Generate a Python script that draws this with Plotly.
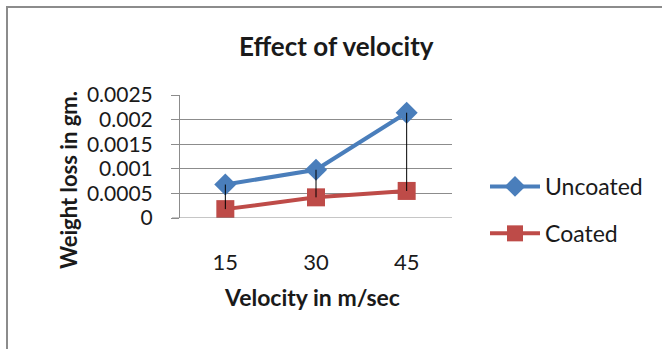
import plotly.graph_objects as go

# Chart data
velocity = ["15", "30", "45"]
uncoated = [0.00068, 0.00098, 0.00214]
coated = [0.00018, 0.00042, 0.00055]
y_ticks = [0, 0.0005, 0.001, 0.0015, 0.002, 0.0025]
y_tick_text = ["0", "0.0005", "0.001", "0.0015", "0.002", "0.0025"]

W, H = 662, 349
L, R, T, B = 180, 452, 95, 218  # plot area in pixels
FONT = "Lato"
TEXT = "#1a1a1a"
AXIS = "#8c8c8c"

def px_x(p):
    return (p - L) / (R - L)

def px_y(p):
    return (B - p) / (B - T)

xpos = list(range(len(velocity)))

fig = go.Figure()

fig.add_trace(go.Scatter(
    x=xpos, y=uncoated, name="Uncoated", mode="lines+markers",
    legendgroup="u",
    line=dict(color="#4A7EBB", width=4),
    marker=dict(symbol="diamond", size=17, color="#4A7EBB"),
))
fig.add_trace(go.Scatter(
    x=xpos, y=coated, name="Coated", mode="lines+markers",
    legendgroup="c",
    line=dict(color="#BE4B48", width=4),
    marker=dict(symbol="square", size=18, color="#BE4B48"),
))

# High-low lines joining the two series at each velocity
hx, hy = [], []
for i, (u, c) in enumerate(zip(uncoated, coated)):
    hx += [i, i, None]
    hy += [u, c, None]
fig.add_trace(go.Scatter(
    x=hx, y=hy, mode="lines", showlegend=False, hoverinfo="skip",
    line=dict(color="black", width=1),
))

fig.update_layout(
    width=W, height=H,
    margin=dict(l=L, r=W - R, t=T, b=H - B, pad=0),
    paper_bgcolor="white", plot_bgcolor="white",
    font=dict(family=FONT, color=TEXT),
    showlegend=True,
    legend=dict(
        x=px_x(485), y=px_y(165), xanchor="left", yanchor="top",
        font=dict(size=23, family=FONT, color=TEXT),
        bgcolor="rgba(0,0,0,0)", itemwidth=50, tracegroupgap=14,
    ),
    xaxis=dict(
        range=[-0.5, len(velocity) - 0.5],
        tickvals=xpos, ticktext=velocity,
        showgrid=False, zeroline=False,
        showline=False, ticks="",
        tickfont=dict(size=22, family=FONT, color=TEXT),
        ticklabelstandoff=29,
    ),
    yaxis=dict(
        range=[0, 0.0025],
        tickvals=y_ticks, ticktext=y_tick_text,
        showgrid=True, gridcolor=AXIS, gridwidth=1,
        zeroline=False,
        showline=True, linecolor=AXIS, linewidth=1,
        ticks="outside", ticklen=8, tickcolor=AXIS,
        tickfont=dict(size=21, family=FONT, color=TEXT),
        ticklabelstandoff=14,
    ),
    shapes=[
        # outer chart frame
        dict(type="rect", xref="paper", yref="paper",
             x0=px_x(7), x1=px_x(700), y0=px_y(400), y1=px_y(7),
             line=dict(color=AXIS, width=2), layer="below"),
    ],
    annotations=[
        dict(text="<b>Effect of velocity</b>", xref="paper", yref="paper",
             x=px_x(336), y=px_y(46), showarrow=False,
             xanchor="center", yanchor="middle",
             font=dict(size=26, family=FONT, color=TEXT)),
        dict(text="<b>Velocity in m/sec</b>", xref="paper", yref="paper",
             x=px_x(312), y=px_y(297), showarrow=False,
             xanchor="center", yanchor="middle",
             font=dict(size=23, family=FONT, color=TEXT)),
        dict(text="<b>Weight loss in gm.</b>", xref="paper", yref="paper",
             x=px_x(68), y=px_y(180), showarrow=False, textangle=-90,
             xanchor="center", yanchor="middle",
             font=dict(size=22, family=FONT, color=TEXT)),
    ],
)

# Bottom axis line spanning the plot plus the tick stub on the left
fig.add_shape(type="line", xref="paper", yref="y",
              x0=px_x(172), x1=1, y0=0, y1=0,
              line=dict(color=AXIS, width=1))

fig.write_html("out.html")
